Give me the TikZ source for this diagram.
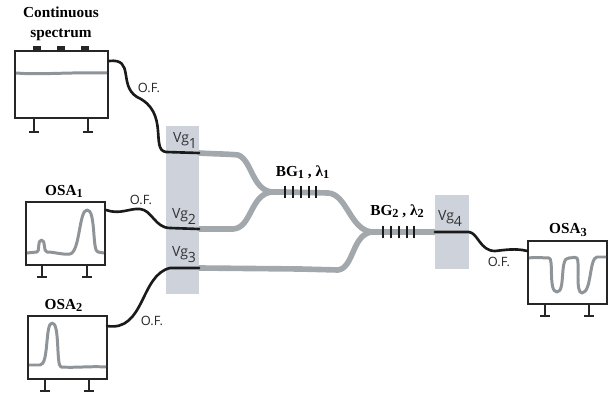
\documentclass[tikz,border=0pt]{standalone}
\usepackage{fontspec}
\setmainfont{Liberation Serif}
\setsansfont{Open Sans}
\usetikzlibrary{arrows.meta, positioning, calc}
\definecolor{bandgray}{HTML}{CDD2DB}
\definecolor{guidegray}{HTML}{A3A8AD}
\definecolor{tracegray}{HTML}{8F9499}
\definecolor{fiberblack}{HTML}{1A1A1A}
\newcommand{\lowsub}[1]{\raisebox{-3.4pt}{\footnotesize #1}}
\newcommand{\boldsub}[1]{\raisebox{-1.2pt}{\scriptsize #1}}
\tikzset{
  osabox/.style={draw=black!85,line width=0.95pt,fill=white,minimum width=1.58cm,minimum height=1.26cm,inner sep=0pt},
  bandbox/.style={fill=bandgray,draw=none,minimum width=0.66cm,inner sep=0pt},
  fiber/.style={draw=fiberblack,line width=1.5pt,line cap=round},
  guide/.style={draw=guidegray,line width=3.2pt,line join=round},
  trace/.style={draw=tracegray,line width=1.7pt,line join=round},
  footline/.style={draw=black!85,line width=0.85pt},
  grating/.style={draw=black!90,line width=1.4pt},
  boldlabel/.style={font=\rmfamily\bfseries\fontsize{8.7}{10.5}\selectfont,align=center,inner sep=0pt},
  vglabel/.style={font=\sffamily\fontsize{8}{9}\selectfont,text=black!80,inner sep=0pt},
  oflabel/.style={font=\sffamily\fontsize{7.3}{8}\selectfont,text=black!85,inner sep=0pt}
}
\begin{document}
\begin{tikzpicture}[x=0.02cm,y=-0.02cm]
  \useasboundingbox (0,0) rectangle (613,395);

  % Modulation bands
  \node[bandbox,minimum height=3.36cm] (band) at (182.5,210) {};
  \node[bandbox,minimum width=0.68cm,minimum height=1.48cm] (bandr) at (452,232) {};

  % Instruments
  \node[osabox,minimum width=1.86cm,minimum height=1.34cm] (src) at (61.5,84.5) {};
  \node[osabox] (osaa) at (65.5,233.5) {};
  \node[osabox] (osab) at (67.5,347.5) {};
  \node[osabox] (osac) at (567.5,272.5) {};

  % Knobs and feet
  \foreach \x in {37,61,85}
    \fill[black!85] (\x-4,46) rectangle (\x+4,50.5);
  \foreach \x/\y/\h in {34/118/14,88/118/14,42/265/12,87/265/12,45/379/12,89/379/12,545/304/12,589/304/12} {
    \draw[footline] (\x,\y) -- (\x,\y+\h);
    \draw[footline] (\x-5,\y+\h) -- (\x+5,\y+\h);
  }

  % Traces on the screens
  \draw[trace] (16,73) .. controls (40,75) and (70,72) .. (107,73);
  \draw[trace] (27,253) -- (37,252) .. controls (40,252) and (37,240) .. (41.5,240)
    .. controls (46,240) and (43,252) .. (47,252)
    .. controls (55,252) and (62,255) .. (70,254)
    .. controls (80,252) and (79,210) .. (87,210)
    .. controls (96,209) and (92,252) .. (98,252) -- (104,253);
  \draw[trace] (29,365) -- (40,365) .. controls (49,365) and (45,323) .. (52,323)
    .. controls (60,322) and (56,366) .. (61,367)
    .. controls (75,368) and (90,366) .. (106,367);
  \draw[trace] (529,258) .. controls (535,257) and (545,258) .. (549,258)
    .. controls (554,258) and (548,292) .. (557,292)
    .. controls (566,292) and (559,257) .. (569,258)
    .. controls (574,258) and (575,256) .. (577,258)
    .. controls (580,262) and (575,293) .. (582,293)
    .. controls (592,292) and (589,258) .. (597,257) -- (606,257);

  % Guides
  \coordinate (ga) at (199,153);
  \coordinate (gb) at (199,229);
  \coordinate (gc) at (199,268);
  \coordinate (gd) at (435,232);
  \coordinate (joina) at (284,192);
  \coordinate (joinb) at (384,232);
  \draw[guide] (ga) .. controls (215,154) and (230,154) .. (238,155)
    .. controls (252,160) and (252,190) .. (272,192) -- (joina);
  \draw[guide] (gb) -- (233,229) .. controls (252,228) and (250,194) .. (272,192);
  \draw[guide] (joina) -- (328,193) .. controls (347,194) and (350,230) .. (372,232) -- (joinb);
  \draw[guide] (gc) -- (300,269) -- (338,270)
    .. controls (354,268) and (352,234) .. (372,232);
  \draw[guide] (joinb) -- (gd);

  % Gratings
  \foreach \x in {285,293,301,309,316}
    \draw[grating] (\x,186) -- (\x,198);
  \foreach \x in {383,391,399,407,414}
    \draw[grating] (\x,226) -- (\x,238);

  % Fibers
  \coordinate (fa) at (109,61);
  \coordinate (fb) at (106,210);
  \coordinate (fc) at (107,326);
  \coordinate (fd) at (527.5,251);
  \coordinate (fe) at (469,232);
  \draw[fiber] (fa) .. controls (135,58) and (118,85) .. (137,97)
    .. controls (170,112) and (150,150) .. (166,152) -- (ga);
  \draw[fiber] (fb) .. controls (120,215) and (130,208) .. (140,209)
    .. controls (152,210) and (155,228) .. (170,228) -- (gb);
  \draw[fiber] (fc) .. controls (145,332) and (140,275) .. (170,268) -- (gc);
  \draw[fiber] (gd) -- (fe) .. controls (478,233) and (480,251) .. (495,251)
    .. controls (505,250) and (515,248) .. (fd);

  % Labels
  \node[boldlabel] (srclabel) at (61,24) {Continuous\\[1pt]spectrum};
  \node[boldlabel] (osaalabel) at (64,191) {OSA\boldsub{1}};
  \node[boldlabel] (osablabel) at (63.5,305) {OSA\boldsub{2}};
  \node[boldlabel] (osaclabel) at (568,230) {OSA\boldsub{3}};
  \node[boldlabel] (bgalabel) at (302.5,172) {BG\boldsub{1} , λ\boldsub{1}};
  \node[boldlabel] (bgblabel) at (397,211) {BG\boldsub{2} , λ\boldsub{2}};
  \node[vglabel] (vga) at (185,140) {Vg\lowsub{1}};
  \node[vglabel] (vgb) at (184,216) {Vg\lowsub{2}};
  \node[vglabel] (vgc) at (184,255) {Vg\lowsub{3}};
  \node[vglabel] (vgd) at (450,218) {Vg\lowsub{4}};
  \node[oflabel] (ofa) at (149,88) {O.F.};
  \node[oflabel] (ofb) at (141,200) {O.F.};
  \node[oflabel] (ofc) at (152,321) {O.F.};
  \node[oflabel] (ofd) at (499,262) {O.F.};
\end{tikzpicture}
\end{document}
